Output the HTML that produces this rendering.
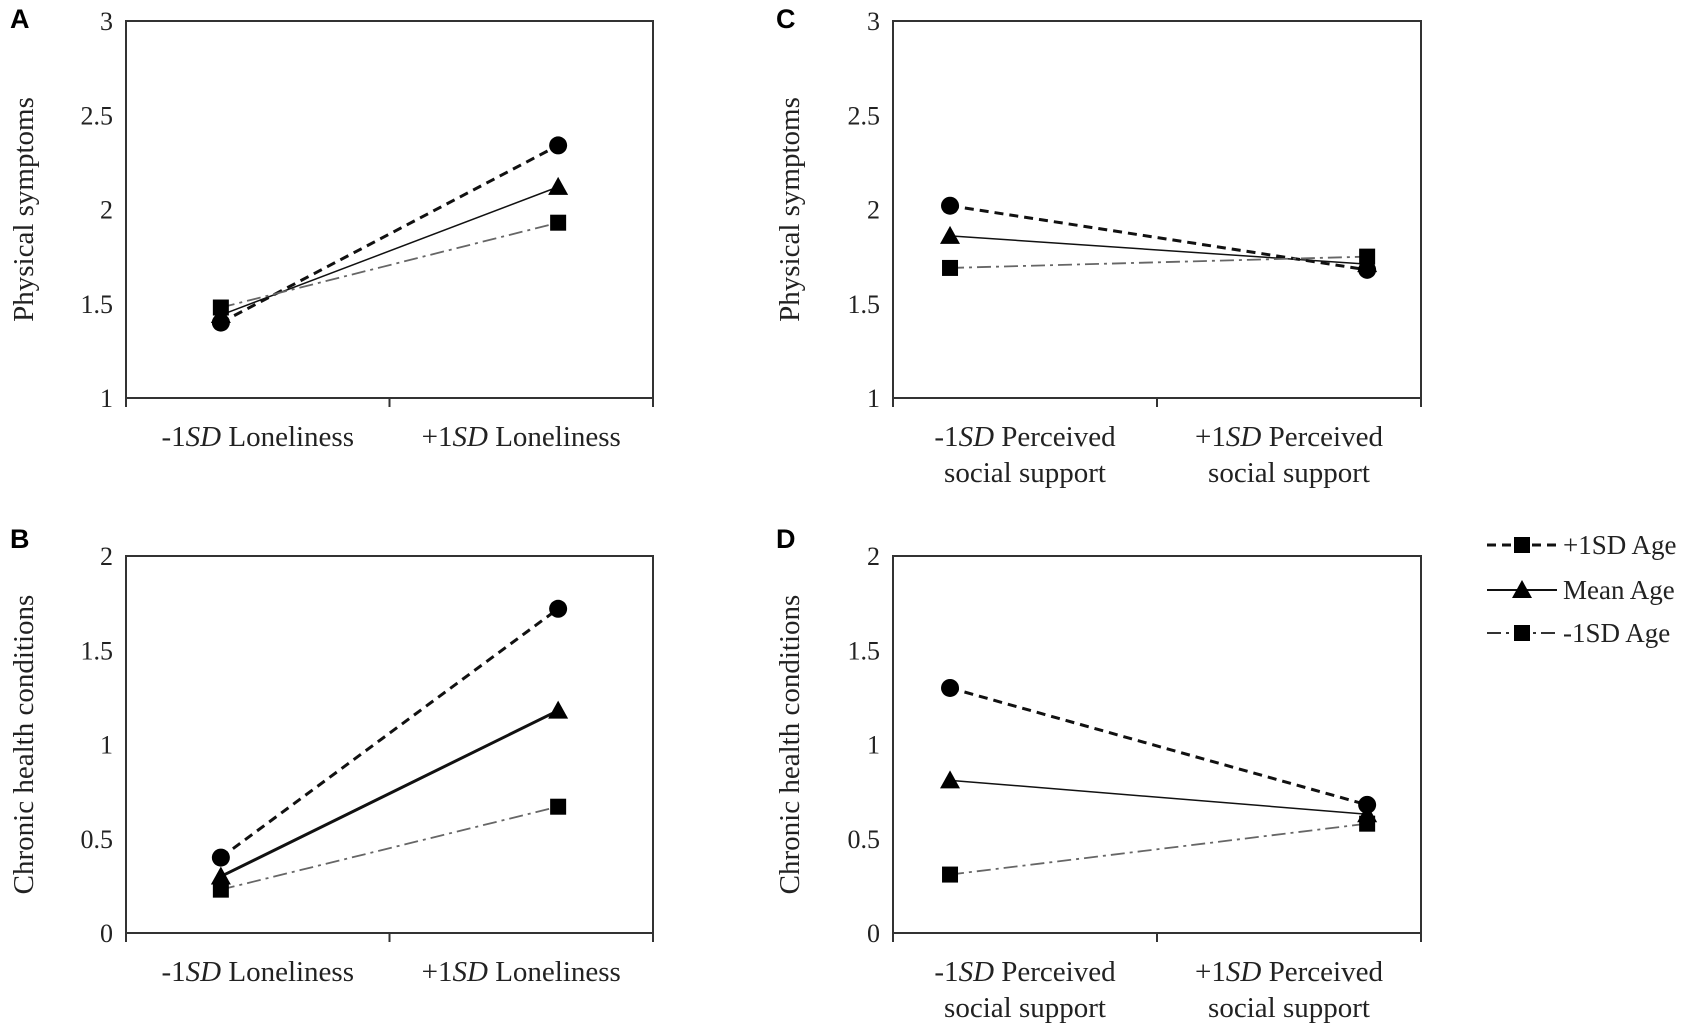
<!DOCTYPE html>
<html><head><meta charset="utf-8"><style>
html,body{margin:0;padding:0;background:#fff;}
svg{display:block;}
text{font-family:"Liberation Serif",serif;fill:#222;}
.pl{font-family:"Liberation Sans",sans-serif;font-weight:bold;fill:#000;font-size:27px;}
</style></head><body>
<svg id="chart" width="1687" height="1030" viewBox="0 0 1687 1030" xmlns="http://www.w3.org/2000/svg"></svg>
<script>
const seriesNames = ["+1SD Age","Mean Age","-1SD Age"];
const panelIds = ["A","B","C","D"];
const valsA_hi = [1.40, 2.34];
const valsA_mean = [1.44, 2.12];
const valsA_lo = [1.48, 1.93];
const valsB_hi = [0.40, 1.72];
const valsB_mean = [0.30, 1.18];
const valsB_lo = [0.23, 0.67];
const valsC_hi = [2.02, 1.68];
const valsC_mean = [1.86, 1.71];
const valsC_lo = [1.69, 1.75];
const valsD_hi = [1.30, 0.68];
const valsD_mean = [0.81, 0.63];
const valsD_lo = [0.31, 0.58];
const ticksTop = ["1","1.5","2","2.5","3"];
const ticksBottom = ["0","0.5","1","1.5","2"];
const catsLonely = [["-1","SD"," Loneliness"],["+1","SD"," Loneliness"]];
const catsSupport = [["-1","SD"," Perceived"],["+1","SD"," Perceived"]];

const NS="http://www.w3.org/2000/svg";
const svg=document.getElementById('chart');
function mk(tag,attrs,parent){const e=document.createElementNS(NS,tag);for(const k in attrs)e.setAttribute(k,attrs[k]);(parent||svg).appendChild(e);return e;}

const panels=[
 {id:"A",x0:126,x1:653,y0:21,y1:398,ymin:1,ymax:3,ticks:ticksTop,title:"Physical symptoms",cats:catsLonely,two:false,pos:[0.18,0.82],data:[valsA_hi,valsA_mean,valsA_lo],meanW:1.5,lx:10,ly:28,tx:24},
 {id:"B",x0:126,x1:653,y0:556,y1:933,ymin:0,ymax:2,ticks:ticksBottom,title:"Chronic health conditions",cats:catsLonely,two:false,pos:[0.18,0.82],data:[valsB_hi,valsB_mean,valsB_lo],meanW:3,lx:10,ly:548,tx:24},
 {id:"C",x0:893,x1:1421,y0:21,y1:398,ymin:1,ymax:3,ticks:ticksTop,title:"Physical symptoms",cats:catsSupport,two:true,pos:[0.108,0.898],data:[valsC_hi,valsC_mean,valsC_lo],meanW:1.5,lx:776,ly:28,tx:790},
 {id:"D",x0:893,x1:1421,y0:556,y1:933,ymin:0,ymax:2,ticks:ticksBottom,title:"Chronic health conditions",cats:catsSupport,two:true,pos:[0.108,0.898],data:[valsD_hi,valsD_mean,valsD_lo],meanW:1.5,lx:776,ly:548,tx:790}
];
const styles=[{stroke:"#111",w:3,dash:"9 6",marker:"circle"},{stroke:"#111",w:1.5,dash:"",marker:"tri"},{stroke:"#666",w:1.8,dash:"14 5 3 5",marker:"square"}];

function drawMarker(g,type,cx,cy,name){
  let m;
  if(type==="circle") m=mk('circle',{cx:cx,cy:cy,r:9,fill:"#000"},g);
  else if(type==="square") m=mk('rect',{x:cx-8,y:cy-8,width:16,height:16,fill:"#000"},g);
  else m=mk('polygon',{points:`${cx},${cy-10} ${cx-10},${cy+8} ${cx+10},${cy+8}`,fill:"#000"},g);
  
  
}

panels.forEach(p=>{
  const g=mk('g',{});
  
  
  const ys=v=>p.y1-(v-p.ymin)/(p.ymax-p.ymin)*(p.y1-p.y0);
  const xs=i=>p.x0+p.pos[i]*(p.x1-p.x0);
  const lab=mk('text',{x:p.lx,y:p.ly,class:"pl"},g);lab.textContent=p.id;
  
  
  const box=mk('path',{d:`M${p.x0},${p.y1} V${p.y0} H${p.x1} V${p.y1} H${p.x0}`,fill:"none",stroke:"#333","stroke-width":2},g);
  
  
  [0,0.5,1].forEach(f=>{const x=p.x0+f*(p.x1-p.x0);const t=mk('line',{x1:x,y1:p.y1,x2:x,y2:p.y1+9,stroke:"#333","stroke-width":2},g);
    
    });
  p.ticks.forEach(tl=>{const v=parseFloat(tl);const t=mk('text',{x:p.x0-13,y:ys(v)+9,"text-anchor":"end","font-size":26},g);t.textContent=tl;
    
    });
  const yt=mk('text',{x:0,y:0,"text-anchor":"middle","font-size":29,transform:`translate(${p.tx+9},${(p.y0+p.y1)/2}) rotate(-90)`},g);yt.textContent=p.title;
  
  
  p.cats.forEach((c,i)=>{const cx=p.x0+(i*0.5+0.25)*(p.x1-p.x0);
    const t=mk('text',{x:cx,y:p.y1+48,"text-anchor":"middle","font-size":29},g);
    
    
    const a=mk('tspan',{},t);a.textContent=c[0];
    const b=mk('tspan',{"font-style":"italic"},t);b.textContent=c[1];
    const d=mk('tspan',{},t);d.textContent=c[2];
    if(p.two){const t2=mk('text',{x:cx,y:p.y1+84,"text-anchor":"middle","font-size":29},g);t2.textContent="social support";
      
      }
  });
  p.data.forEach((vals,si)=>{const s=styles[si];
    const ln=mk('line',{x1:xs(0),y1:ys(vals[0]),x2:xs(1),y2:ys(vals[1]),stroke:s.stroke,"stroke-width":si===1?p.meanW:s.w,"stroke-dasharray":s.dash},g);
    
    
  });
  [2,1,0].forEach(si=>{const vals=p.data[si];vals.forEach((v,i)=>drawMarker(g,styles[si].marker,xs(i),ys(v),'point-'+si+'-'+i));});
});

const lg=mk('g',{});


const legY=[545,590,633];
const legMarkers=["square","tri","square"];
seriesNames.forEach((n,i)=>{const s=styles[i];
  const e=mk('g',{},lg);
  
  
  mk('line',{x1:1487,y1:legY[i],x2:1557,y2:legY[i],stroke:i===2?"#333":s.stroke,"stroke-width":i===0?3:2,"stroke-dasharray":s.dash},e);
  drawMarker(e,legMarkers[i],1522,legY[i],'legend-marker');
  const t=mk('text',{x:1563,y:legY[i]+9,"font-size":27},e);t.textContent=n;
});
</script>
</body></html>
